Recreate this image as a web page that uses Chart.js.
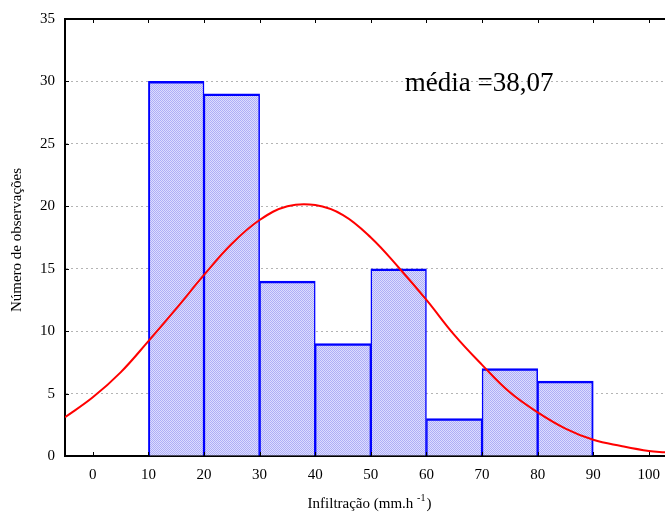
<!DOCTYPE html>
<html>
<head>
<meta charset="utf-8">
<script src="https://cdn.jsdelivr.net/npm/chart.js@4/dist/chart.umd.min.js"></script>
<style>
body { margin: 0; background: #fff; }
#box { width: 665px; height: 512px; }
</style>
</head>
<body>
<div id="box"><canvas id="grafico" width="665" height="512"></canvas></div>
<script>
// classes do histograma (centro de cada intervalo de 10)
const centros = [15, 25, 35, 45, 55, 65, 75, 85];
const frequencias = [30, 29, 14, 9, 15, 3, 7, 6];
// curva normal
const curvaX = [-5, 0, 5, 10, 15, 20, 25, 30, 35, 40, 45, 50, 55, 60, 65, 70, 75, 80, 85, 90, 95, 100, 103];
const curvaY = [3.1, 4.7, 6.7, 9.2, 11.8, 14.5, 17.0, 18.9, 20.0, 20.1, 19.3, 17.5, 15.1, 12.5, 9.7, 7.3, 5.1, 3.5, 2.2, 1.3, 0.8, 0.4, 0.3];
const ticksX = [0, 10, 20, 30, 40, 50, 60, 70, 80, 90, 100];
const ticksY = [0, 5, 10, 15, 20, 25, 30, 35];
const textoMedia = "média =38,07";
const tituloX = "Infiltração (mm.h ";
const tituloY = "Número de observações";

function loadPage() {
    Chart.defaults.font.family = "'Liberation Serif', 'Times New Roman', serif";
    Chart.defaults.color = "#000";

    const ctx = document.getElementById("grafico").getContext("2d");

    // padrao xadrez do preenchimento
    const pc = document.createElement("canvas");
    pc.width = 2; pc.height = 2;
    const p = pc.getContext("2d");
    p.fillStyle = "#dcdcff"; p.fillRect(0, 0, 2, 2);
    p.fillStyle = "#aeaef6"; p.fillRect(0, 0, 1, 1); p.fillRect(1, 1, 1, 1);
    const preenchimento = ctx.createPattern(pc, "repeat");

    const extras = {
        id: "extras",
        afterDraw(chart) {
            const c = chart.ctx;
            const a = chart.chartArea;
            const sx = chart.scales.x, sy = chart.scales.y;
            c.save();
            c.strokeStyle = "#000";
            c.lineWidth = 2;
            c.beginPath();
            c.moveTo(a.left - 1, a.top);
            c.lineTo(a.right, a.top);
            c.stroke();
            c.lineWidth = 1;
            ticksX.forEach(v => {
                const px = Math.round(sx.getPixelForValue(v)) + 0.5;
                c.beginPath();
                c.moveTo(px, a.top); c.lineTo(px, a.top + 4);
                c.moveTo(px, a.bottom); c.lineTo(px, a.bottom - 4);
                c.stroke();
            });
            ticksY.forEach(v => {
                const py = Math.round(sy.getPixelForValue(v)) + 0.5;
                c.beginPath();
                c.moveTo(a.left, py); c.lineTo(a.left + 4, py);
                c.stroke();
            });
            c.fillStyle = "#000";
            c.font = "27px 'Liberation Serif'";
            c.textBaseline = "middle";
            c.textAlign = "left";
            c.fillText(textoMedia, sx.getPixelForValue(56.1), sy.getPixelForValue(29.8));

            c.font = "15px 'Liberation Serif'";
            c.textAlign = "center";
            c.save();
            c.translate(17, 240);
            c.rotate(-Math.PI / 2);
            c.fillText(tituloY, 0, 0);
            c.restore();

            const w1 = c.measureText(tituloX).width;
            c.font = "10px 'Liberation Serif'";
            const w2 = c.measureText("-1").width;
            c.font = "15px 'Liberation Serif'";
            const w3 = c.measureText(")").width;
            let x0 = 369 - (w1 + w2 + w3) / 2;
            c.textAlign = "left";
            c.fillText(tituloX, x0, 504);
            c.font = "10px 'Liberation Serif'";
            c.fillText("-1", x0 + w1, 498);
            c.font = "15px 'Liberation Serif'";
            c.fillText(")", x0 + w1 + w2 + 1, 504);
            c.restore();
        }
    };

    const ultimo = centros.length - 1;
    const data = {
        datasets: [
            {
                type: "line",
                label: "Normal",
                data: curvaX.map((x, i) => ({ x: x, y: curvaY[i] })),
                borderColor: "#ff0000",
                borderWidth: 2,
                pointRadius: 0,
                tension: 0.4,
                fill: false,
                order: 0
            },
            {
                type: "bar",
                label: "Observações",
                data: centros.map((x, i) => ({ x: x, y: frequencias[i] })),
                backgroundColor: preenchimento,
                borderColor: "#0000ff",
                borderWidth: ctx => ({
                    left: ctx.dataIndex === 0 ? 2 : 1.5,
                    right: ctx.dataIndex === ultimo ? 2 : 1.5,
                    top: 2.5,
                    bottom: 0
                }),
                borderSkipped: false,
                barPercentage: 1,
                categoryPercentage: 1,
                grouped: false,
                order: 1
            }
        ]
    };

    const config = {
        type: "bar",
        data: data,
        options: {
            responsive: false,
            devicePixelRatio: 1,
            animation: false,
            layout: { padding: { top: 18, right: 0, left: 0, bottom: 0 } },
            plugins: {
                legend: { display: false },
                tooltip: { enabled: false }
            },
            scales: {
                x: {
                    type: "linear",
                    min: -5,
                    max: 102.9,
                    offset: false,
                    afterBuildTicks: s => { s.ticks = ticksX.map(v => ({ value: v })); },
                    afterFit: s => { s.height = 56; s.paddingRight = 0; s.paddingLeft = 0; },
                    grid: { display: false, drawTicks: false, offset: false },
                    border: { display: true, color: "#000", width: 2 },
                    ticks: { font: { size: 15 }, padding: 10, maxRotation: 0, autoSkip: false }
                },
                y: {
                    min: 0,
                    max: 35,
                    afterBuildTicks: s => { s.ticks = ticksY.map(v => ({ value: v })); },
                    afterFit: s => { s.width = 65; },
                    grid: { color: "#b4b4b4", lineWidth: 1, drawTicks: false },
                    border: { display: true, color: "#000", width: 2, dash: [2, 3] },
                    ticks: { font: { size: 15 }, padding: 10 }
                }
            }
        },
        plugins: [extras]
    };

    new Chart(ctx, config);
}
window.addEventListener("DOMContentLoaded", loadPage);
</script>
</body>
</html>
